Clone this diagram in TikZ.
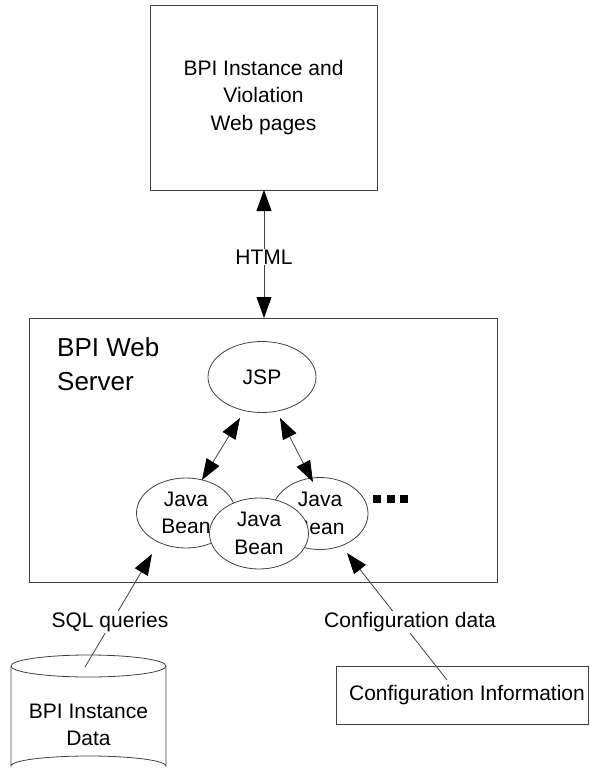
\documentclass[tikz,border=0pt]{standalone}
\usepackage{fontspec}
\setmainfont{Liberation Sans}
\usetikzlibrary{arrows.meta,shapes.geometric}
\tikzset{
  ln/.style={draw=black!75, line width=0.8pt},
  txt/.style={font=\fontsize{21}{27.5}\selectfont, align=center},
  boxnode/.style={ln, rectangle, inner sep=0pt, txt},
  ell/.style={ln, ellipse, fill=white, inner sep=0pt, txt},
  biarrow/.style={ln, {Triangle[length=21pt,width=15pt,color=black]}-{Triangle[length=21pt,width=15pt,color=black]}},
  onearrow/.style={ln, -{Triangle[length=21pt,width=15pt,color=black]}},
  lab/.style={txt, fill=white, inner sep=1pt},
}
\begin{document}
\begin{tikzpicture}[x=1pt,y=-1pt]
\useasboundingbox (0,0) rectangle (589,776);

% top box
\node[boxnode, minimum width=227pt, minimum height=185pt] (web) at (263.5,97.5)
  {BPI Instance and\\Violation\\Web pages};

% server box
\node[boxnode, minimum width=468pt, minimum height=264pt] (server) at (263,450) {};
\node[anchor=north west, align=left, inner sep=0pt,
  font=\fontsize{26}{34}\selectfont] (srvlabel) at (57,337) {BPI Web\\Server};

% JSP
\node[ell, minimum width=108pt, minimum height=71pt] (jsp) at (262,377) {JSP};

% beans
\node[ell, minimum width=99pt, minimum height=70pt] (beanL) at (186,513) {Java\\Bean};
\node[ell, minimum width=96pt, minimum height=72pt] (beanR) at (320,513.5) {Java\\Bean};
\node[ell, minimum width=99pt, minimum height=71pt] (beanM) at (259,533.5) {Java\\Bean};

% dots
\fill[black] (373,495) rectangle (381,502.5);
\fill[black] (386.5,495) rectangle (394.5,502.5);
\fill[black] (400,495) rectangle (408,502.5);

% HTML connector
\coordinate (webB) at (264,190);
\coordinate (srvT) at (264,318);
\draw[biarrow] (webB) -- (srvT);
\node[lab] (html) at (264,257) {HTML};

% JSP - beans
\coordinate (jspL) at (240,418);
\coordinate (bL) at (202,480);
\coordinate (jspR) at (280,418);
\coordinate (bR) at (313,482);
\draw[biarrow] (jspL) -- (bL);
\draw[biarrow] (jspR) -- (bR);

% database cylinder
\draw[ln] (11,666) -- (11,766) arc[start angle=180, end angle=360, x radius=77.5, y radius=10] -- (166,666);
\draw[ln, fill=white] (88.5,666) ellipse[x radius=77.5, y radius=11];
\node[txt] (db) at (88.5,725) {BPI Instance\\Data};

% config box
\node[boxnode, minimum width=252pt, minimum height=58pt] (cfg) at (462,695) {};
\node[txt] (cfgtxt) at (467,695) {Configuration Information};

% SQL connector
\coordinate (sqlS) at (85,667);
\coordinate (sqlE) at (152,554);
\draw[onearrow] (sqlS) -- (sqlE);
\node[lab] (sql) at (110,622) {SQL queries};

% config connector
\coordinate (cfgS) at (447,680);
\coordinate (cfgE) at (347,553);
\draw[onearrow] (cfgS) -- (cfgE);
\node[lab] (cfgd) at (410,622) {Configuration data};
\end{tikzpicture}
\end{document}
